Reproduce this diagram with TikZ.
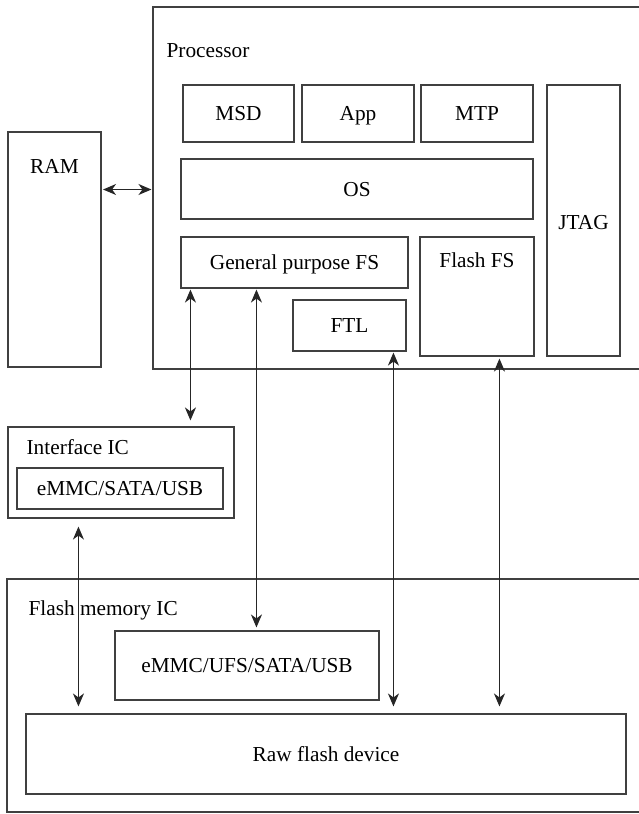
\documentclass[tikz,border=0pt]{standalone}
\usepackage{fontspec}
\setmainfont{Liberation Serif}
\usepackage{tikz}
\usetikzlibrary{arrows.meta,positioning}
\definecolor{linegray}{rgb}{0.25,0.25,0.25}

\begin{document}
\begin{tikzpicture}[x=1pt,y=-1pt,font=\fontsize{21.3}{25}\selectfont,
   blk/.style={draw=linegray,line width=1.1pt,inner sep=0pt,align=center,
               text height=14pt,text depth=0pt},
   lbl/.style={inner sep=0pt,text height=14pt,text depth=0pt},
   dbl/.style={{Stealth[length=13pt,width=11pt,inset=4pt]}-{Stealth[length=13pt,width=11pt,inset=4pt]},
               line width=1.3pt,draw=black!85}]
  \useasboundingbox (0,0) rectangle (638,814);
  % outer blocks (run past the right edge)
  \node[blk,minimum width=495pt,minimum height=362pt] (proc) at (400.5,188) {};
  \node[blk,minimum width=636pt,minimum height=233pt] (fmem) at (325,695.5) {};
  \node[blk,minimum width=93pt,minimum height=235pt] (ram) at (54.5,249.5) {};
  \node[blk,minimum width=226pt,minimum height=91pt] (ifc) at (121,472.5) {};
  % inside processor
  \node[blk,minimum width=111pt,minimum height=57pt] (msd) at (238.5,113.5) {MSD};
  \node[blk,minimum width=112pt,minimum height=57pt] (app) at (358,113.5) {App};
  \node[blk,minimum width=112pt,minimum height=57pt] (mtp) at (477,113.5) {MTP};
  \node[blk,minimum width=73pt,minimum height=271pt] (jtag) at (583.5,220.5) {};
  \node[blk,minimum width=352pt,minimum height=60pt] (os) at (357,189) {OS};
  \node[blk,minimum width=227pt,minimum height=51pt] (gpfs) at (294.5,262.5) {General purpose FS};
  \node[blk,minimum width=113pt,minimum height=51pt] (ftl) at (349.5,325.5) {FTL};
  \node[blk,minimum width=114pt,minimum height=119pt] (ffs) at (477,296.5) {};
  % inside the ICs
  \node[blk,minimum width=206pt,minimum height=41pt] (emmca) at (120,488.5) {eMMC/SATA/USB};
  \node[blk,minimum width=264pt,minimum height=69pt] (emmcb) at (247,665.5) {eMMC/UFS/SATA/USB};
  \node[blk,minimum width=600pt,minimum height=80pt] (raw) at (326,754) {Raw flash device};
  % titles
  \node[lbl,anchor=west] (proclbl) at ([xshift=14pt,yshift=-44pt]proc.north west) {Processor};
  \node[lbl] (ramlbl) at ([yshift=-35pt]ram.north) {RAM};
  \node[lbl] (jtaglbl) at ([yshift=-138pt]jtag.north) {JTAG};
  \node[lbl] (ffslbl) at ([yshift=-24pt]ffs.north) {Flash FS};
  \node[lbl,anchor=west] (ifclbl) at ([xshift=19pt,yshift=-21pt]ifc.north west) {Interface IC};
  \node[lbl,anchor=west] (fmemlbl) at ([xshift=22pt,yshift=-30pt]fmem.north west) {Flash memory IC};
  % links
  \draw[dbl,shorten <=1.5pt,shorten >=1pt] ([yshift=60pt]ram.east) -- ([yshift=60pt]ram.east -| proc.west);
  \draw[dbl,shorten <=1pt,shorten >=6pt] ([xshift=10pt]gpfs.south west) -- ([xshift=10pt]gpfs.south west |- ifc.north);
  \draw[dbl,shorten <=1pt,shorten >=3pt] ([xshift=76pt]gpfs.south west) -- ([xshift=76pt]gpfs.south west |- emmcb.north);
  \draw[dbl,shorten <=1pt,shorten >=7pt] ([xshift=101pt]ftl.south west) -- ([xshift=101pt]ftl.south west |- raw.north);
  \draw[dbl,shorten <=2pt,shorten >=7pt] ([xshift=80pt]ffs.south west) -- ([xshift=80pt]ffs.south west |- raw.north);
  \draw[dbl,shorten <=8pt,shorten >=7pt] ([xshift=71pt]ifc.south west) -- ([xshift=71pt]ifc.south west |- raw.north);
\end{tikzpicture}
\end{document}
